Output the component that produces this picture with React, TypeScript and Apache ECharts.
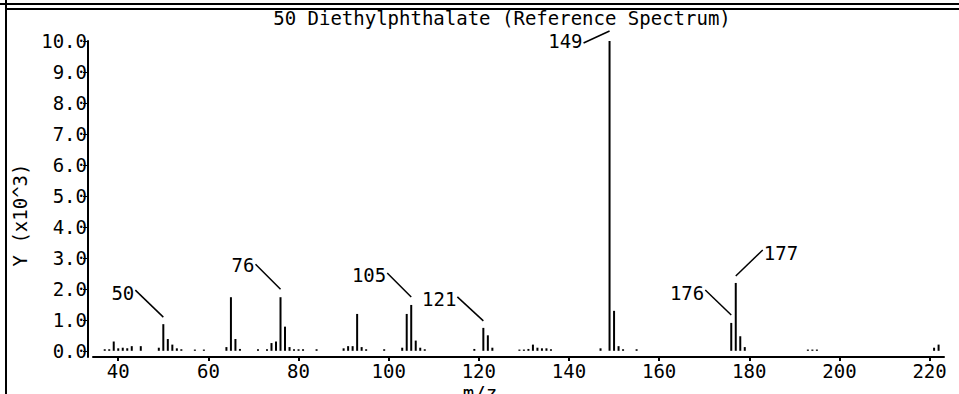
import React, { useEffect, useRef } from "react";
import * as echarts from "echarts";

// ---- data ----
const TITLE = "50 Diethylphthalate (Reference Spectrum)";
const Y_NAME = "Y (x10^3)";
const X_NAME = "m/z";
const MZ = [
  37, 38, 39, 40, 41, 42, 43, 45, 49, 50, 51, 52, 53, 54, 57, 59, 64, 65, 66, 67,
  71, 73, 74, 75, 76, 77, 78, 79, 80, 81, 84, 90, 91, 92, 93, 94, 95, 99, 103, 104,
  105, 106, 107, 108, 119, 121, 122, 123, 129, 130, 131, 132, 133, 134, 135, 136, 147, 149, 150, 151,
  152, 155, 176, 177, 178, 179, 193, 194, 195, 221, 222,
];
const INTENSITY = [
  0.05, 0.05, 0.3, 0.08, 0.1, 0.08, 0.15, 0.15, 0.1, 0.86, 0.38, 0.2, 0.08, 0.05, 0.04, 0.04, 0.12, 1.73, 0.38, 0.06,
  0.05, 0.05, 0.25, 0.3, 1.73, 0.78, 0.12, 0.05, 0.05, 0.05, 0.05, 0.08, 0.15, 0.15, 1.19, 0.12, 0.05, 0.05, 0.1, 1.19,
  1.48, 0.33, 0.1, 0.05, 0.06, 0.74, 0.5, 0.1, 0.04, 0.04, 0.06, 0.2, 0.1, 0.08, 0.08, 0.05, 0.08, 10.0, 1.29, 0.15,
  0.05, 0.05, 0.9, 2.19, 0.47, 0.12, 0.04, 0.04, 0.04, 0.1, 0.2,
];
const LABELED = [50, 76, 105, 121, 149, 176, 177];
const X_TICKS = [40, 60, 80, 100, 120, 140, 160, 180, 200, 220];
const Y_TICKS = [0, 1, 2, 3, 4, 5, 6, 7, 8, 9, 10];

// ---- layout of leader lines (pixels) ----
const LEADER: Record<number, { gap: number; dx: number; dy: number; side: "left" | "right"; ty: number }> = {
  50: { gap: 7, dx: -28, dy: -27, side: "left", ty: 3 },
  76: { gap: 8, dx: -25, dy: -25, side: "left", ty: 1 },
  105: { gap: 8, dx: -24, dy: -24, side: "left", ty: 2 },
  121: { gap: 7, dx: -26, dy: -24, side: "left", ty: 2 },
  149: { gap: 10, dx: -26, dy: 12, side: "left", ty: -2 },
  176: { gap: 8, dx: -26, dy: -25, side: "left", ty: 3 },
  177: { gap: 7, dx: 27, dy: -26, side: "right", ty: 3 },
};

const FONT = "DejaVu Sans Mono";
const FS = 19;

export default function App() {
  const ref = useRef<HTMLDivElement>(null);
  useEffect(() => {
    if (!ref.current) return;
    const chart = echarts.init(ref.current, null, { renderer: "svg" });
    const data = MZ.map((m, i) => [m, INTENSITY[i]]);
    chart.setOption({
      animation: false,
      backgroundColor: "#ffffff",
      grid: { left: 93, right: 15, top: 41, bottom: 37, containLabel: false },
      xAxis: {
        type: "value",
        min: 34.4,
        max: 223.2,
        splitLine: { show: false },
        axisLine: { show: true, onZero: false, lineStyle: { color: "#000", width: 2 } },
        axisTick: { show: true, length: 4, customValues: X_TICKS, lineStyle: { color: "#000", width: 2 } },
        axisLabel: {
          customValues: X_TICKS,
          color: "#000",
          fontFamily: FONT,
          fontSize: FS,
          margin: 4,
        },
      },
      yAxis: {
        type: "value",
        min: -0.2,
        max: 10,
        offset: 5,
        splitLine: { show: false },
        axisLine: { show: true, onZero: false, lineStyle: { color: "#000", width: 2 } },
        axisTick: { show: true, length: 5, customValues: Y_TICKS, lineStyle: { color: "#000", width: 1 } },
        axisLabel: {
          customValues: Y_TICKS,
          color: "#000",
          fontFamily: FONT,
          fontSize: FS,
          margin: 1,
          formatter: (v: number) => v.toFixed(1),
        },
      },
      series: [
        {
          type: "bar",
          data,
          barWidth: 2,
          itemStyle: { color: "#000" },
          silent: true,
        },
      ],
    });

    const textStyle = (text: string, x: number, y: number, align: string, va = "middle", fs = FS) => ({
      text,
      x,
      y,
      fill: "#000",
      fontFamily: FONT,
      fontSize: fs,
      align,
      verticalAlign: va,
      textAlign: align,
      textVerticalAlign: va,
    });

    const labelGfx: any[] = [];
    LABELED.forEach((m) => {
      const i = MZ.indexOf(m);
      const [bx, by] = chart.convertToPixel({ gridIndex: 0 }, [m, INTENSITY[i]]) as number[];
      const L = LEADER[m];
      const ex = bx;
      const ey = by - L.gap;
      const sx = ex + L.dx;
      const sy = ey + L.dy;
      labelGfx.push({
        type: "line",
        shape: { x1: sx, y1: sy, x2: ex, y2: ey },
        style: { stroke: "#000", lineWidth: 1.5 },
        silent: true,
      });
      labelGfx.push({
        type: "text",
        silent: true,
        style: textStyle(String(m), L.side === "left" ? sx - 1 : sx + 1, sy + L.ty, L.side === "left" ? "right" : "left"),
      });
    });

    chart.setOption({
      graphic: [
        { type: "line", silent: true, shape: { x1: 0, y1: 4, x2: 959, y2: 4 }, style: { stroke: "#000", lineWidth: 2 } },
        { type: "line", silent: true, shape: { x1: 5, y1: 9, x2: 959, y2: 9 }, style: { stroke: "#000", lineWidth: 2 } },
        { type: "line", silent: true, shape: { x1: 6, y1: 0, x2: 6, y2: 394 }, style: { stroke: "#000", lineWidth: 2 } },
        { type: "text", silent: true, style: textStyle(TITLE, 502, 18, "center") },
        { type: "text", silent: true, rotation: Math.PI / 2, x: 20, y: 215, style: textStyle(Y_NAME, 0, 0, "center") },
        { type: "text", silent: true, style: textStyle(X_NAME, 480, 383, "center", "top") },
        ...labelGfx,
      ],
    });

    return () => chart.dispose();
  }, []);
  return <div ref={ref} style={{ width: 959, height: 394, position: "absolute", left: 0, top: 0 }} />;
}
